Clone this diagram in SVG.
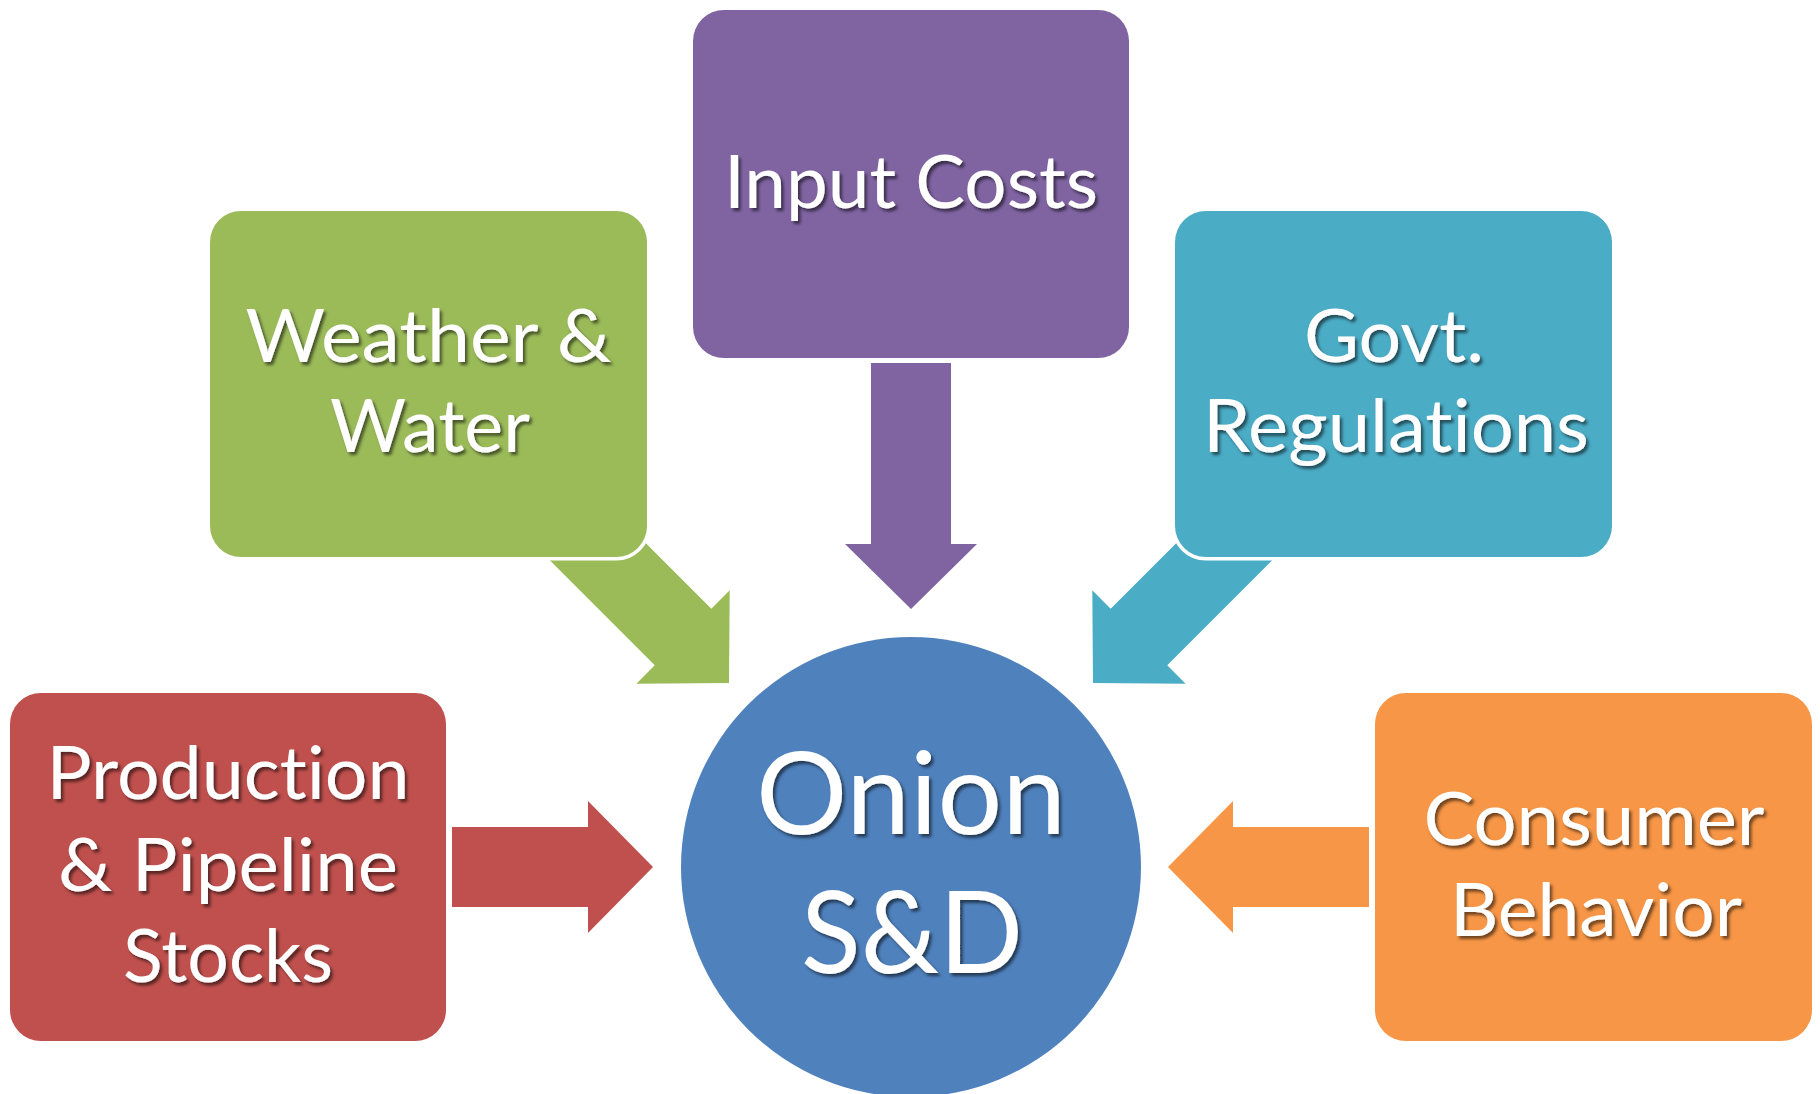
<svg xmlns="http://www.w3.org/2000/svg" width="1820" height="1094" viewBox="0 0 1820 1094">
  <defs>
    <style>
      .box { stroke: #ffffff; stroke-width: 7; paint-order: stroke; }
      .lbl { font-family: Lato, "Open Sans", "Liberation Sans", sans-serif; font-size: 73px; fill: #ffffff; text-anchor: middle; font-variant-ligatures: none; font-feature-settings: "liga" 0, "clig" 0; filter: url(#txtShadow); }
      .big { font-size: 114px; }
      .purple { fill: #8064A2; }
      .green { fill: #9BBB59; }
      .teal { fill: #4BACC6; }
      .red { fill: #C0504D; }
      .orange { fill: #F79646; }
      .blue { fill: #4F81BD; }
    </style>
    <filter id="txtShadow" x="-10%" y="-20%" width="130%" height="150%">
      <feDropShadow dx="2.5" dy="3" stdDeviation="1.6" flood-color="#000000" flood-opacity="0.55"/>
    </filter>
    <!-- block arrows, pointing down with the tip at the origin -->
    <path id="arrowLong" d="M -40 -246 L 40 -246 L 40 -65 L 66 -65 L 0 0 L -66 -65 L -40 -65 Z"/>
    <path id="arrowShort" d="M -40 -201 L 40 -201 L 40 -65 L 66 -65 L 0 0 L -66 -65 L -40 -65 Z"/>
  </defs>

  <rect width="1820" height="1094" fill="#ffffff"/>

  <!-- connectors -->
  <g id="connectors">
    <use href="#arrowLong" class="purple" transform="translate(911 609)"/>
    <use href="#arrowLong" class="green" transform="translate(729 683) rotate(-45)"/>
    <use href="#arrowLong" class="teal" transform="translate(1093 683) rotate(45)"/>
    <use href="#arrowShort" class="red" transform="translate(653 867) rotate(-90)"/>
    <use href="#arrowShort" class="orange" transform="translate(1168 867) rotate(90)"/>
  </g>

  <g id="input-costs">
    <rect class="box purple" x="693" y="10" width="436" height="348" rx="31" ry="31"/>
    <text class="lbl" x="911" y="208" textLength="374" lengthAdjust="spacingAndGlyphs">Input Costs</text>
  </g>

  <g id="weather-water">
    <rect class="box green" x="210" y="211" width="437" height="346" rx="31" ry="31"/>
    <text class="lbl" x="428.5" y="362" textLength="366" lengthAdjust="spacingAndGlyphs">Weather &amp;</text>
    <text class="lbl" x="430" y="452" textLength="200" lengthAdjust="spacingAndGlyphs">Water</text>
  </g>

  <g id="govt-regulations">
    <rect class="box teal" x="1175" y="211" width="437" height="346" rx="31" ry="31"/>
    <text class="lbl" x="1394" y="362" textLength="180" lengthAdjust="spacingAndGlyphs">Govt.</text>
    <text class="lbl" x="1396" y="452" textLength="386" lengthAdjust="spacingAndGlyphs">Regulations</text>
  </g>

  <g id="production-stocks">
    <rect class="box red" x="10" y="693" width="436" height="348" rx="31" ry="31"/>
    <text class="lbl" x="228" y="799" textLength="363" lengthAdjust="spacingAndGlyphs">Production</text>
    <text class="lbl" x="228" y="891" textLength="340" lengthAdjust="spacingAndGlyphs">&amp; Pipeline</text>
    <text class="lbl" x="228" y="982" textLength="210" lengthAdjust="spacingAndGlyphs">Stocks</text>
  </g>

  <g id="consumer-behavior">
    <rect class="box orange" x="1375" y="693" width="437" height="348" rx="31" ry="31"/>
    <text class="lbl" x="1594" y="845" textLength="341" lengthAdjust="spacingAndGlyphs">Consumer</text>
    <text class="lbl" x="1596" y="936" textLength="292" lengthAdjust="spacingAndGlyphs">Behavior</text>
  </g>

  <g id="onion-sd">
    <circle class="blue" cx="911" cy="867" r="230"/>
    <text class="lbl big" x="911" y="834" textLength="310" lengthAdjust="spacingAndGlyphs">Onion</text>
    <text class="lbl big" x="912" y="973" textLength="222" lengthAdjust="spacingAndGlyphs">S&amp;D</text>
  </g>
</svg>
